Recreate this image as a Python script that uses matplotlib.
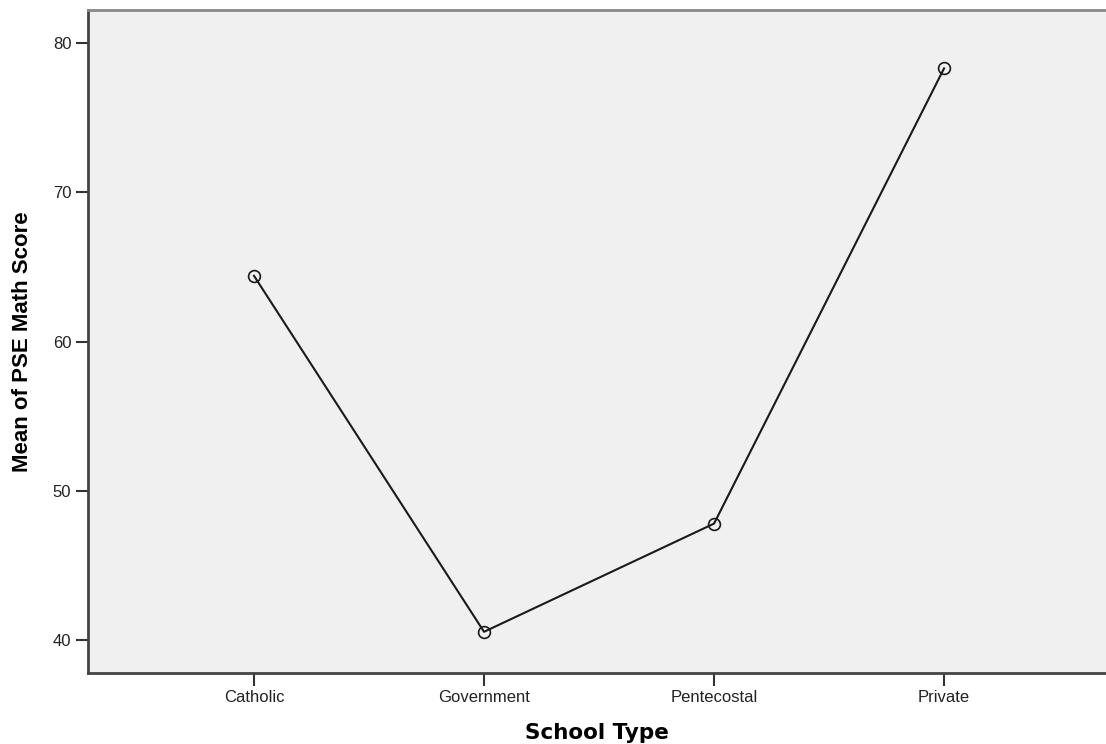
import matplotlib
matplotlib.use("Agg")
import matplotlib.pyplot as plt

categories = ["Catholic", "Government", "Pentecostal", "Private"]
means = [64.4, 40.55, 47.8, 78.3]
yticks = [40, 50, 60, 70, 80]

plt.rcParams['font.family'] = ['Liberation Sans', 'DejaVu Sans']

fig = plt.figure(figsize=(11.06, 7.44), dpi=100)
ax = fig.add_axes([88/1106, 1-673/744, 1-88/1106, (673-10)/744])
ax.set_facecolor('#f0f0f0')

x = list(range(len(categories)))
ax.plot(x, means, color='#1a1a1a', lw=1.5, marker='o', markersize=8.5,
        markerfacecolor='none', markeredgecolor='#1a1a1a', markeredgewidth=1.2)

ax.set_xlim(-0.7217, 3.704)
ax.set_ylim(37.79, 82.21)
ax.set_xticks(x)
ax.set_xticklabels(categories)
ax.set_yticks(yticks)

for s in ['left', 'bottom']:
    ax.spines[s].set_color('#444444')
    ax.spines[s].set_linewidth(2)
ax.spines['top'].set_color('#888888')
ax.spines['top'].set_linewidth(2)
ax.spines['right'].set_visible(False)

ax.tick_params(axis='both', direction='out', length=9, width=1.5, color='#333333',
               labelsize=12, labelcolor='#222222', pad=3)

ax.set_xlabel('School Type', fontsize=15.5, fontweight='bold',
              family=['DejaVu Sans'], labelpad=13)
ax.set_ylabel('Mean of PSE Math Score', fontsize=16, fontweight='bold')
ax.yaxis.set_label_coords(-(88-33)/1018, 0.5)

fig.savefig('out.png', dpi=100)
